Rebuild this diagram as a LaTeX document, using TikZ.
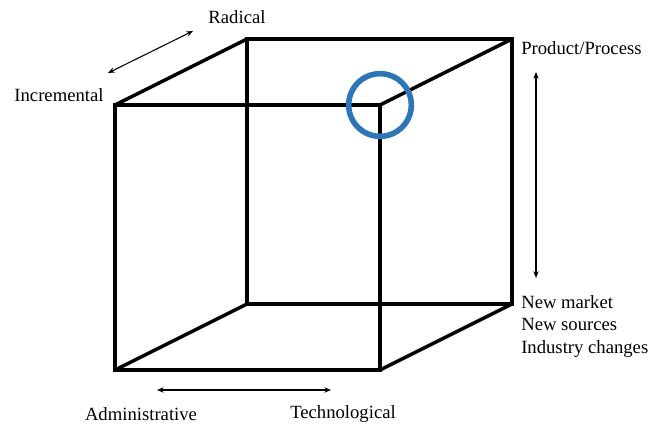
\documentclass[tikz,border=0pt]{standalone}
\usepackage{fontspec}
\setmainfont{Liberation Serif}
\usetikzlibrary{arrows.meta}
\begin{document}
\begin{tikzpicture}[x=0.75pt,y=-0.75pt,
    edge/.style={line width=2.6pt,line join=miter},
    axis/.style={line width=0.8pt,{Stealth[length=5pt,width=4pt]}-{Stealth[length=5pt,width=4pt]}},
    lab/.style={font=\fontsize{14}{17}\selectfont,inner sep=0pt}]
    \useasboundingbox (0,0) rectangle (648,425);
    % corners of the cube
    \coordinate (ftl) at (115,105); \coordinate (ftr) at (380,105);
    \coordinate (fbr) at (380,370); \coordinate (fbl) at (115,370);
    \coordinate (btl) at (247,39); \coordinate (btr) at (512,39);
    \coordinate (bbr) at (512,304); \coordinate (bbl) at (247,304);
    \draw[edge] (btl) -- (btr) -- (bbr) -- (bbl) -- cycle;
    \draw[edge] (ftl) -- (ftr) -- (fbr) -- (fbl) -- cycle;
    \draw[edge] (ftl) -- (btl);
    \draw[edge] (ftr) -- (btr);
    \draw[edge] (fbr) -- (bbr);
    \draw[edge] (fbl) -- (bbl);
    \draw[line width=4.2pt,color={rgb,255:red,46;green,117;blue,182}] (ftr) circle (23.5pt);
    % labels
    \node[lab] (radical) at (237,17) {Radical};
    \node[lab] (incremental) at (59,95) {Incremental};
    \node[lab,anchor=west] (product) at (521,48) {Product/Process};
    \node[lab,anchor=north west,align=left] (market) at (521,295) {New market\\New sources\\Industry changes};
    \node[lab] (admin) at (141,414) {Administrative};
    \node[lab] (techno) at (343,414) {Technological};
    % arrows
    \coordinate (r1) at (108,73); \coordinate (r2) at (193,31);
    \coordinate (v1) at (536,72); \coordinate (v2) at (536,278);
    \coordinate (h1) at (157,390); \coordinate (h2) at (331,390);
    \draw[axis] (r1) -- (r2);
    \draw[axis] (v1) -- (v2);
    \draw[axis] (h1) -- (h2);
\end{tikzpicture}
\end{document}
